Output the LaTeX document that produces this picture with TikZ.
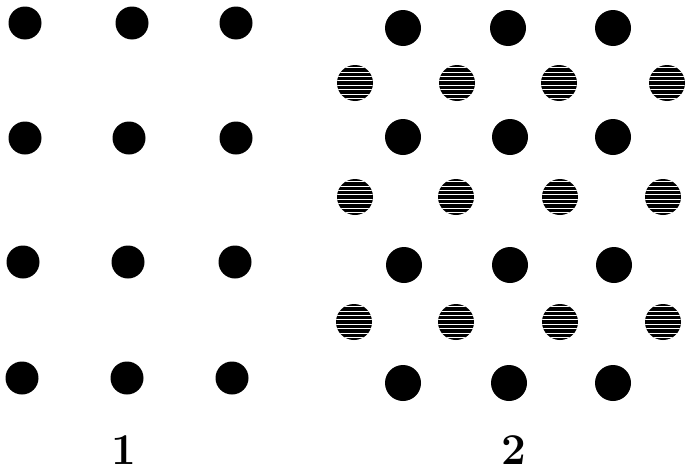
\documentclass[tikz,border=0pt]{standalone}
\usepackage{tikz}
\usetikzlibrary{
  positioning,
}

\begin{document}
\begin{tikzpicture}[
  x=1pt, y=-1pt,
  site/.style={
    circle, fill=black, inner sep=0pt,
    minimum size=#1,
  },
  site/.default=33pt,
  hatched/.style={
    circle, fill=black, inner sep=0pt,
    minimum size=36pt,
    path picture={
      \foreach \k in {-3.5,-2.5,...,3.5}
        \draw[white, line width=1pt]
          ([yshift=\k*4.4pt]path picture bounding box.west) --
          ([yshift=\k*4.4pt]path picture bounding box.east);
    },
  },
  label/.style={font=\fontsize{44}{44}\selectfont\bfseries, inner sep=0pt},
]
  \useasboundingbox (0,0) rectangle (688,474);

  % Lattice 1
  \node[site] (a11) at (25,23)  {};
  \node[site] (a12) at (132,23) {};
  \node[site] (a13) at (236,23) {};
  \node[site] (a21) at (25,138)  {};
  \node[site] (a22) at (129,138) {};
  \node[site] (a23) at (236,138) {};
  \node[site] (a31) at (23,262)  {};
  \node[site] (a32) at (128,262) {};
  \node[site] (a33) at (235,262) {};
  \node[site] (a41) at (22,378)  {};
  \node[site] (a42) at (127,378) {};
  \node[site] (a43) at (232,378) {};

  % Lattice 2, full sites
  \node[site=36pt] (b11) at (403,28)  {};
  \node[site=36pt] (b12) at (508,28)  {};
  \node[site=36pt] (b13) at (613,28)  {};
  \node[site=36pt] (b21) at (403,137) {};
  \node[site=36pt] (b22) at (510,137) {};
  \node[site=36pt] (b23) at (613,137) {};
  \node[site=36pt] (b31) at (404,265) {};
  \node[site=36pt] (b32) at (510,265) {};
  \node[site=36pt] (b33) at (614,265) {};
  \node[site=36pt] (b41) at (403,383) {};
  \node[site=36pt] (b42) at (509,383) {};
  \node[site=36pt] (b43) at (613,383) {};

  % Lattice 2, hatched sites
  \node[hatched] (h11) at (355,83)  {};
  \node[hatched] (h12) at (457,83)  {};
  \node[hatched] (h13) at (559,83)  {};
  \node[hatched] (h14) at (667,83)  {};
  \node[hatched] (h21) at (355,197) {};
  \node[hatched] (h22) at (456,197) {};
  \node[hatched] (h23) at (560,197) {};
  \node[hatched] (h24) at (663,197) {};
  \node[hatched] (h31) at (354,322) {};
  \node[hatched] (h32) at (456,322) {};
  \node[hatched] (h33) at (560,322) {};
  \node[hatched] (h34) at (663,322) {};

  % Labels
  \node[label] (l1) at (124,450) {1};
  \node[label] (l2) at (514,450) {2};

\end{tikzpicture}
\end{document}
